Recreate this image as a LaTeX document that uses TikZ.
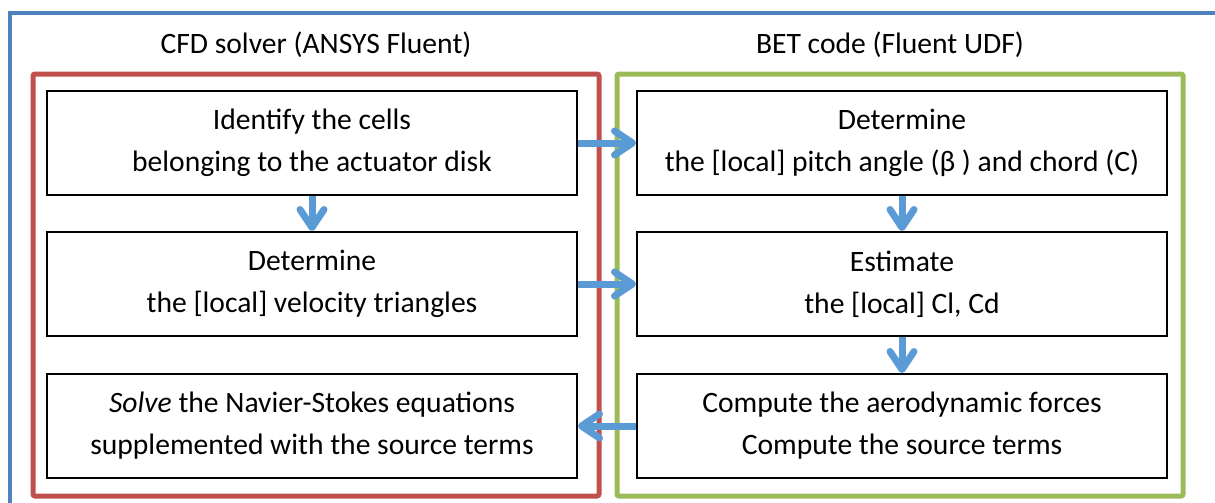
\documentclass[tikz,border=0pt]{standalone}
\usepackage{fontspec}
\setmainfont{Carlito}
\usetikzlibrary{arrows.meta}

\definecolor{frameblue}{HTML}{4F81BD}
\definecolor{framered}{HTML}{C0504D}
\definecolor{framegreen}{HTML}{9BBB59}
\definecolor{flowblue}{HTML}{5B9BD5}

\tikzset{
  stepbox/.style={draw, line width=1pt, minimum width=265pt, minimum height=52pt,
    align=center, inner sep=0pt, font=\fontsize{14.8}{21}\selectfont},
  title/.style={font=\fontsize{14.8}{21}\selectfont},
  flow/.style={draw=flowblue, line width=3.5pt,
    -{Straight Barb[length=9pt,width=12pt,round]}}
}

\begin{document}
\begin{tikzpicture}[x=0.5pt, y=-0.5pt]
  \clip (0,0) rectangle (1215,503);

  % outer frame and the two groups
  \draw[frameblue, line width=2pt] (10,560) -- (10,13) -- (1260,13);
  \draw[framered, line width=2.5pt, rounded corners=1pt] (33,74) rectangle (599,496);
  \draw[framegreen, line width=2.5pt, rounded corners=1pt] (617,74) rectangle (1183,496);

  \node[title] (cfd) at (316,45) {CFD solver (ANSYS Fluent)};
  \node[title] (bet) at (890,45) {BET code (Fluent UDF)};

  % CFD side
  \node[stepbox] (cells) at (312,143) {Identify the cells\\belonging to the actuator disk};
  \node[stepbox] (triangles) at (312,284) {Determine\\the [local] velocity triangles};
  \node[stepbox] (solve) at (312,426) {\textit{Solve} the Navier-Stokes equations\\supplemented with the source terms};

  % BET side
  \node[stepbox] (pitch) at (902,143) {Determine\\the [local] pitch angle (β ) and chord (C)};
  \node[stepbox] (coeffs) at (902,284) {Estimate\\the [local] Cl, Cd};
  \node[stepbox] (forces) at (902,426) {Compute the aerodynamic forces\\Compute the source terms};

  % flow of the computation
  \draw[flow] (cells) -- (triangles);
  \draw[flow] (cells.east) -- (pitch.west);
  \draw[flow] (triangles.east) -- (coeffs.west);
  \draw[flow] (pitch) -- (coeffs);
  \draw[flow] (coeffs) -- (forces);
  \draw[flow] (forces.west) -- (solve.east);
\end{tikzpicture}
\end{document}
